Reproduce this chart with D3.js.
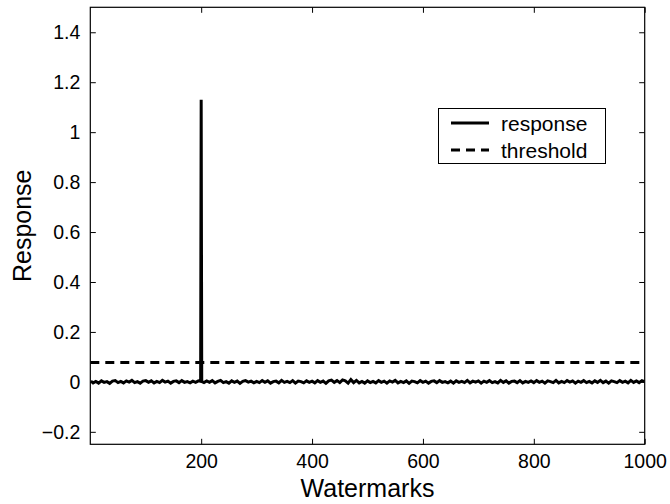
<!DOCTYPE html>
<html>
<head>
<meta charset="utf-8">
<script src="https://cdn.jsdelivr.net/npm/d3@7"></script>
<style>
  body { margin: 0; background: #fff; }
  text { font-family: "Liberation Sans", Arial, Helvetica, sans-serif; fill: #000; }
</style>
</head>
<body>
<div id="chart"></div>
<script>
// The svg
var width = 670;
var height = 504;
var margin = { top: 7.3, right: 25.3, bottom: 59.7, left: 90.3 };

// data: watermark index and detector response
var watermarks = [1, 5, 10, 15, 20, 25, 30, 35, 40, 45, 50, 55, 60, 65, 70, 75, 80, 85, 90, 95,
    100, 105, 110, 115, 120, 125, 130, 135, 140, 145, 150, 155, 160, 165, 170, 175, 180, 185, 190, 195,
    199, 200, 201,
    205, 210, 215, 220, 225, 230, 235, 240, 245, 250, 255, 260, 265, 270, 275, 280, 285, 290, 295, 300,
    305, 310, 315, 320, 325, 330, 335, 340, 345, 350, 355, 360, 365, 370, 375, 380, 385, 390, 395, 400,
    405, 410, 415, 420, 425, 430, 435, 440, 445, 450, 455, 460, 465, 470, 475, 480, 485, 490, 495, 500,
    505, 510, 515, 520, 525, 530, 535, 540, 545, 550, 555, 560, 565, 570, 575, 580, 585, 590, 595, 600,
    605, 610, 615, 620, 625, 630, 635, 640, 645, 650, 655, 660, 665, 670, 675, 680, 685, 690, 695, 700,
    705, 710, 715, 720, 725, 730, 735, 740, 745, 750, 755, 760, 765, 770, 775, 780, 785, 790, 795, 800,
    805, 810, 815, 820, 825, 830, 835, 840, 845, 850, 855, 860, 865, 870, 875, 880, 885, 890, 895, 900,
    905, 910, 915, 920, 925, 930, 935, 940, 945, 950, 955, 960, 965, 970, 975, 980, 985, 990, 995, 1000];
var response = [0.003, -0.004, 0.002, -0.005, 0.004, -0.002, 0.001, -0.006, 0.003, 0.005, -0.003, 0.002, -0.004, 0.004, -0.001, 0.006, -0.003, 0.001, -0.005, 0.003,
    0.005, -0.002, 0.004, -0.004, 0.002, -0.003, 0.006, -0.001, 0.003, -0.005, 0.002, 0.004, -0.003, 0.005, -0.002, 0.001, -0.004, 0.003, -0.002, 0.004,
    0.002, 1.13, 0.001,
    -0.003, 0.004, -0.002, 0.005, -0.004, 0.002, 0.006, -0.003, 0.001, -0.005, 0.004, -0.002, 0.003, -0.006, 0.002, 0.005, -0.001, 0.003, -0.004, 0.002,
    -0.003, 0.005, -0.002, 0.004, -0.005, 0.001, 0.003, -0.004, 0.006, -0.002, 0.002, -0.003, 0.005, -0.005, 0.003, 0.001, -0.004, 0.004, -0.002, 0.003,
    -0.004, 0.005, -0.002, 0.003, -0.006, 0.004, 0.007, -0.002, 0.005, -0.003, 0.008, 0.004, -0.005, 0.009, -0.003, 0.006, -0.004, 0.002, -0.005, 0.004,
    -0.003, 0.002, -0.004, 0.005, -0.002, 0.003, -0.005, 0.004, -0.001, 0.006, -0.004, 0.002, -0.003, 0.004, -0.006, 0.003, 0.001, -0.004, 0.005, -0.002,
    0.003, -0.005, 0.002, 0.004, -0.003, 0.005, -0.002, 0.001, -0.004, 0.003, -0.005, 0.004, -0.002, 0.002, -0.003, 0.006, -0.004, 0.003, -0.001, 0.004,
    -0.005, 0.003, -0.002, 0.005, -0.003, 0.001, -0.004, 0.006, -0.002, 0.004, -0.005, 0.002, 0.003, -0.003, 0.005, -0.004, 0.002, -0.002, 0.004, -0.003,
    0.005, -0.002, 0.003, -0.005, 0.004, 0.001, -0.003, 0.006, -0.004, 0.002, -0.003, 0.005, -0.001, 0.004, -0.005, 0.003, -0.002, 0.005, -0.003, 0.002,
    -0.004, 0.004, -0.002, 0.006, -0.003, 0.003, -0.005, 0.004, 0.001, -0.003, 0.005, -0.002, 0.003, -0.004, 0.006, -0.002, 0.004, -0.003, 0.005, 0.001];
var threshold = 0.078;

var xTicks = [200, 400, 600, 800, 1000];
var yTicks = [-0.2, 0, 0.2, 0.4, 0.6, 0.8, 1, 1.2, 1.4];
var legendLabels = ["response", "threshold"];

var svg = d3.select("#chart")
    .append("svg")
    .attr("width", width)
    .attr("height", height);

// scales
var x = d3.scaleLinear()
    .domain([0, 1000])
    .range([margin.left, width - margin.right]);

var y = d3.scaleLinear()
    .domain([-0.25, 1.5])
    .range([height - margin.bottom, margin.top]);

// matlab style labels: no thousands comma, long minus
var fmt = function (d) { return d < 0 ? "\u2212" + Math.abs(d) : String(d) };

// clip the lines to the axes box
svg.append("clipPath").attr("id", "box")
    .append("rect")
    .attr("x", x(0)).attr("y", y(1.5))
    .attr("width", x(1000) - x(0)).attr("height", y(-0.25) - y(1.5));

var plot = svg.append("g").attr("clip-path", "url(#box)");

// threshold line
plot.append("line")
    .attr("x1", x(0)).attr("x2", x(1000))
    .attr("y1", y(threshold)).attr("y2", y(threshold))
    .attr("stroke", "#000")
    .attr("stroke-width", 3)
    .attr("stroke-dasharray", "9,6");

// response line
var line = d3.line()
    .x(function (d, i) { return x(watermarks[i]) })
    .y(function (d) { return y(d) });

plot.append("path")
    .datum(response)
    .attr("d", line)
    .attr("fill", "none")
    .attr("stroke", "#000")
    .attr("stroke-width", 3);

// axes: ticks inside, box on all four sides
var tickLen = 5.5;
var axisBottom = d3.axisBottom(x).tickValues(xTicks).tickSizeInner(-tickLen).tickSizeOuter(0).tickPadding(10).tickFormat(fmt);
var axisTop = d3.axisTop(x).tickValues(xTicks).tickSizeInner(-tickLen).tickSizeOuter(0).tickFormat("");
var axisLeft = d3.axisLeft(y).tickValues(yTicks).tickSizeInner(-tickLen).tickSizeOuter(0).tickPadding(10).tickFormat(fmt);
var axisRight = d3.axisRight(y).tickValues(yTicks).tickSizeInner(-tickLen).tickSizeOuter(0).tickFormat("");

function styleAxis(g) {
    g.select(".domain").remove();
    g.selectAll(".tick line").attr("stroke", "#000").attr("stroke-width", 1);
    g.selectAll(".tick text").attr("font-size", 19.5).attr("fill", "#000")
        .attr("font-family", "Liberation Sans, Arial, sans-serif");
}

svg.append("g").attr("transform", "translate(0," + y(-0.25) + ")").call(axisBottom).call(styleAxis);
svg.append("g").attr("transform", "translate(0," + y(1.5) + ")").call(axisTop).call(styleAxis);
svg.append("g").attr("transform", "translate(" + x(0) + ",0)").call(axisLeft).call(styleAxis);
svg.append("g").attr("transform", "translate(" + x(1000) + ",0)").call(axisRight).call(styleAxis);

// axes box
svg.append("rect")
    .attr("x", x(0)).attr("y", y(1.5))
    .attr("width", x(1000) - x(0)).attr("height", y(-0.25) - y(1.5))
    .attr("fill", "none")
    .attr("stroke", "#000")
    .attr("stroke-width", 1.2);

// axis labels
svg.append("text")
    .attr("x", (x(0) + x(1000)) / 2)
    .attr("y", 497)
    .attr("text-anchor", "middle")
    .attr("font-size", 25)
    .text("Watermarks");

svg.append("text")
    .attr("transform", "translate(31," + (y(-0.25) + y(1.5)) / 2 + ") rotate(-90)")
    .attr("text-anchor", "middle")
    .attr("font-size", 25)
    .text("Response");

// legend
var legend = svg.append("g").attr("transform", "translate(438.5,108.5)");
legend.append("rect")
    .attr("width", 167).attr("height", 55)
    .attr("fill", "#fff")
    .attr("stroke", "#000")
    .attr("stroke-width", 1);

legend.selectAll("line.key")
    .data(legendLabels)
    .enter()
    .append("line")
    .attr("class", "key")
    .attr("x1", 12.5).attr("x2", 50.5)
    .attr("y1", function (d, i) { return 14.5 + i * 27 })
    .attr("y2", function (d, i) { return 14.5 + i * 27 })
    .attr("stroke", "#000")
    .attr("stroke-width", 3)
    .attr("stroke-dasharray", function (d, i) { return i == 0 ? null : "9,6" });

legend.selectAll("text.key")
    .data(legendLabels)
    .enter()
    .append("text")
    .attr("class", "key")
    .attr("x", 62.5)
    .attr("y", function (d, i) { return 22 + i * 27 })
    .attr("font-size", 21)
    .text(function (d) { return d });
</script>
</body>
</html>
